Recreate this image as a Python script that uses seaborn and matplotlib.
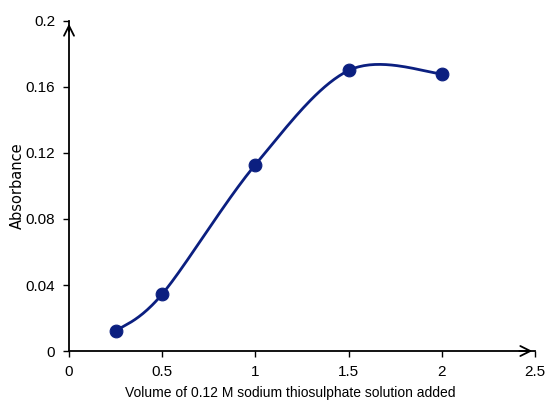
import numpy as np
import pandas as pd
import matplotlib
matplotlib.use("Agg")
import matplotlib.pyplot as plt
import seaborn as sns

# ---------------- DATA ----------------
volume = [0.25, 0.5, 1.0, 1.5, 2.0]
absorbance = [0.012, 0.0345, 0.113, 0.170, 0.168]
x_ticks = [0, 0.5, 1, 1.5, 2, 2.5]
x_labels = ["0", "0.5", "1", "1.5", "2", "2.5"]
y_ticks = [0, 0.04, 0.08, 0.12, 0.16, 0.2]
y_labels = ["0", "0.04", "0.08", "0.12", "0.16", "0.2"]

LINE = "#0b1f80"

# ---------------- STYLE ----------------
sns.set_style("white")
plt.rcParams["font.family"] = ["Liberation Sans", "DejaVu Sans"]
plt.rcParams["text.color"] = "black"
plt.rcParams["axes.labelcolor"] = "black"
plt.rcParams["xtick.color"] = "black"
plt.rcParams["ytick.color"] = "black"


# Excel-style smoothed line (cubic Bezier through the points)
def smooth(xs, ys, n=40):
    p = np.column_stack([xs, ys])
    pts = []
    for i in range(len(p) - 1):
        p0 = p[i - 1] if i > 0 else p[i]
        p1, p2 = p[i], p[i + 1]
        p3 = p[i + 2] if i + 2 < len(p) else p[i + 1]
        c1 = p1 + (p2 - p0) / 6
        c2 = p2 - (p3 - p1) / 6
        t = np.linspace(0, 1, n)[:, None]
        seg = ((1 - t) ** 3) * p1 + 3 * ((1 - t) ** 2) * t * c1 \
            + 3 * (1 - t) * t ** 2 * c2 + t ** 3 * p2
        pts.append(seg if i == 0 else seg[1:])
    pts = np.vstack(pts)
    return pd.DataFrame({"x": pts[:, 0], "y": pts[:, 1]})


fig = plt.figure(figsize=(5.49, 4.03), dpi=100)
ax = fig.add_axes([0.1257, 0.129, 0.849, 0.819])

curve = smooth(volume, absorbance)
sns.lineplot(data=curve, x="x", y="y", sort=False, color=LINE, lw=2, ax=ax)
df = pd.DataFrame({"v": volume, "a": absorbance})
sns.scatterplot(data=df, x="v", y="a", color=LINE, s=85, edgecolor=LINE,
                zorder=3, ax=ax)

ax.set_xlim(0, 2.5)
ax.set_ylim(0, 0.2)
ax.set_xticks(x_ticks)
ax.set_xticklabels(x_labels)
ax.set_yticks(y_ticks)
ax.set_yticklabels(y_labels)
ax.tick_params(axis="both", labelsize=11, length=4, width=1,
               direction="out", pad=6)
ax.tick_params(axis="x", bottom=True)
ax.tick_params(axis="y", left=True)

sns.despine(ax=ax)
for s in ["left", "bottom"]:
    ax.spines[s].set_color("black")
    ax.spines[s].set_linewidth(1.3)
    ax.spines[s].set_zorder(4)

# arrowheads on the axes
ax.annotate("", xy=(1.0, 0), xytext=(0.96, 0), xycoords="axes fraction",
            arrowprops=dict(arrowstyle="->", lw=1.3, color="black",
                            mutation_scale=18), annotation_clip=False)
ax.annotate("", xy=(0, 1.0), xytext=(0, 0.96), xycoords="axes fraction",
            arrowprops=dict(arrowstyle="->", lw=1.3, color="black",
                            mutation_scale=18), annotation_clip=False)

ax.set_xlabel("Volume of 0.12 M sodium thiosulphate solution added",
              fontsize=10)
ax.xaxis.set_label_coords(0.475, -0.105)
ax.set_ylabel("Absorbance", fontsize=10.5, family="DejaVu Sans")
ax.yaxis.set_label_coords(-0.095, 0.5)

fig.savefig("out.png", dpi=100)
